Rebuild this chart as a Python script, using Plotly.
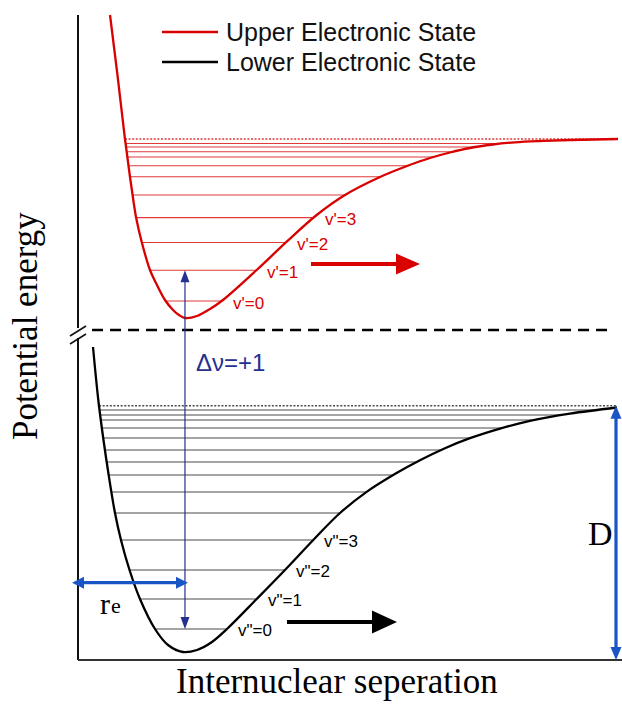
import numpy as np
import plotly.graph_objects as go

# Potential energy curves: internuclear separation r vs energy E (arbitrary units)
upper_r = [0.593, 0.731, 0.870, 0.963, 1.024, 1.074, 1.180, 1.333, 1.444, 1.611,
           1.759, 1.870, 1.981, 2.204, 2.444, 2.685, 3.309, 3.865, 4.420, 4.944,
           5.593, 6.093, 6.519, 6.889, 7.259, 7.685, 8.093, 8.556, 9.111, 10.0]
upper_E = [12.90, 11.70, 10.42, 9.66, 9.20, 8.86, 8.36, 7.80, 7.54, 7.20,
           7.00, 6.90, 6.84, 6.88, 7.02, 7.20, 7.80, 8.366, 8.90, 9.30,
           9.66, 9.88, 10.04, 10.15, 10.24, 10.31, 10.354, 10.38, 10.40, 10.42]

lower_r = [0.278, 0.376, 0.472, 0.565, 0.685, 0.796, 0.954, 1.148, 1.426, 1.667,
           1.944, 2.204, 2.481, 2.759, 3.309, 3.833, 4.357, 4.852, 5.352, 5.907,
           6.333, 6.796, 7.259, 7.815, 8.370, 9.111, 9.981]
lower_E = [6.26, 5.20, 4.40, 3.72, 2.94, 2.40, 1.80, 1.22, 0.62, 0.30,
           0.16, 0.20, 0.36, 0.62, 1.22, 1.80, 2.40, 2.94, 3.368, 3.744,
           3.996, 4.236, 4.436, 4.628, 4.784, 4.928, 5.05]

# Vibrational levels of each state and the dissociation limits
upper_levels = [7.18, 7.794, 8.35, 8.848, 9.30, 9.666, 9.886, 10.06, 10.166, 10.26, 10.33]
lower_levels = [0.62, 1.22, 1.80, 2.40, 2.94, 3.36, 3.70, 3.96, 4.20, 4.44, 4.64, 4.80, 4.90, 5.00]
upper_limit = 10.42
lower_limit = 5.086

upper_labels = ["v'=0", "v'=1", "v'=2", "v'=3"]
lower_labels = ['v"=0', 'v"=1', 'v"=2', 'v"=3']
legend_names = ["Upper Electronic State", "Lower Electronic State"]

r_eq = 1.981        # equilibrium separation marked by r_e
axis_break = 6.6    # energy at which the axis is broken
r_max = 10.074

RED = "#d90000"
RED_LEVEL = "#e03a3a"
BLACK = "#000000"
GREY_LEVEL = "#4a4a4a"
NAVY = "#25318f"
BLUE = "#1a55c6"
SERIF = "Liberation Serif, Times New Roman, serif"
SANS = "Liberation Sans, Arial, sans-serif"

W, H = 622, 706
KX, KY = 54.0, 50.0                   # pixels per data unit
X0, Y0 = -78 / KX, -46 / KY           # data value at the left / bottom edge
x_range = [X0, X0 + W / KX]
y_range = [Y0, Y0 + H / KY]


def crossings(r, E, level):
    r = np.asarray(r, float)
    E = np.asarray(E, float)
    i = int(np.argmin(E))
    left = np.interp(level, E[:i + 1][::-1], r[:i + 1][::-1])
    right = np.interp(level, E[i:], r[i:])
    return float(left), float(right)


def level_segments(r, E, levels):
    xs, ys = [], []
    for lv in levels:
        a, b = crossings(r, E, lv)
        xs += [a, b, None]
        ys += [lv, lv, None]
    return xs, ys


fig = go.Figure()
shapes = []
annotations = []

# vibrational level lines
for r, E, levels, limit, col in [(upper_r, upper_E, upper_levels, upper_limit, RED_LEVEL),
                                 (lower_r, lower_E, lower_levels, lower_limit, GREY_LEVEL)]:
    xs, ys = level_segments(r, E, levels)
    fig.add_trace(go.Scatter(x=xs, y=ys, mode="lines", line=dict(color=col, width=1.1),
                             hoverinfo="skip", showlegend=False))
    a, _ = crossings(r, E, limit)
    fig.add_trace(go.Scatter(x=[a, r[-1]], y=[limit, limit], mode="lines",
                             line=dict(color=col, width=1.4, dash="2px,1.6px"),
                             hoverinfo="skip", showlegend=False))

# potential curves
fig.add_trace(go.Scatter(x=upper_r, y=upper_E, mode="lines", name=legend_names[0],
                         line=dict(color=RED, width=2.3, shape="spline", smoothing=1.0),
                         showlegend=False))
fig.add_trace(go.Scatter(x=lower_r, y=lower_E, mode="lines", name=legend_names[1],
                         line=dict(color=BLACK, width=2.3, shape="spline", smoothing=1.0),
                         showlegend=False))


def line(x0, y0, x1, y1, color, width, dash=None):
    d = dict(type="line", xref="x", yref="y", x0=x0, y0=y0, x1=x1, y1=y1,
             line=dict(color=color, width=width))
    if dash:
        d["line"]["dash"] = dash
    shapes.append(d)


def head(tx, ty, direction, length_px, half_px, color):
    """Filled triangular arrowhead with its tip at (tx, ty)."""
    L, Hh = length_px, half_px
    if direction == "right":
        pts = [(tx, ty), (tx - L / KX, ty + Hh / KY), (tx - L / KX, ty - Hh / KY)]
    elif direction == "left":
        pts = [(tx, ty), (tx + L / KX, ty + Hh / KY), (tx + L / KX, ty - Hh / KY)]
    elif direction == "up":
        pts = [(tx, ty), (tx - Hh / KX, ty - L / KY), (tx + Hh / KX, ty - L / KY)]
    else:
        pts = [(tx, ty), (tx - Hh / KX, ty + L / KY), (tx + Hh / KX, ty + L / KY)]
    path = "M " + " L ".join(f"{x:.4f},{y:.4f}" for x, y in pts) + " Z"
    shapes.append(dict(type="path", xref="x", yref="y", path=path,
                       fillcolor=color, line=dict(width=0)))


# axes with a break on the energy axis
line(0, 0, 0, axis_break - 0.16, "#111", 2)
line(0, axis_break + 0.04, 0, 12.9, "#111", 2)
line(0, 0, r_max, 0, "#333", 2)
for dy in (0.0, -0.16):
    line(-0.148, axis_break - 0.12 + dy, 0.148, axis_break + 0.08 + dy, "#111", 1.6)

# dashed separator between the two electronic states
line(0.26, axis_break, 9.85, axis_break, BLACK, 2.4, dash="11px,7px")

# Δv = +1 transition at r_e
y_top, y_bot = upper_levels[1], lower_levels[0]
line(r_eq, y_bot + 10 / KY, r_eq, y_top - 10 / KY, NAVY, 1.2)
head(r_eq, y_top, "up", 12, 4.5, NAVY)
head(r_eq, y_bot, "down", 12, 4.5, NAVY)

# r_e marker
y_re = 1.546
x_left = -6 / KX
line(x_left + 10 / KX, y_re, r_eq + 3 / KX - 10 / KX, y_re, BLUE, 3.3)
head(x_left, y_re, "left", 12, 6, BLUE)
head(r_eq + 3 / KX, y_re, "right", 12, 6, BLUE)

# dissociation energy D
x_D = 9.963
line(x_D, 0 + 12 / KY, x_D, lower_limit - 12 / KY, BLUE, 3.2)
head(x_D, lower_limit, "up", 13, 5.5, BLUE)
head(x_D, 0.0, "down", 13, 5.5, BLUE)

# dissociation direction arrows
line(4.315, 7.92, 6.333 - 22 / KX, 7.92, RED, 4)
head(6.333, 7.92, "right", 24, 10.5, RED)
line(3.870, 0.76, 5.907 - 24 / KX, 0.76, BLACK, 4)
head(5.907, 0.76, "right", 25, 11.5, BLACK)

# level labels next to the right branch of each curve
for lab, lv in zip(upper_labels, upper_levels):
    _, b = crossings(upper_r, upper_E, lv)
    annotations.append(dict(x=b, y=lv, text=lab, showarrow=False, xanchor="left",
                            yanchor="middle", xshift=9, yshift=-2,
                            font=dict(family=SANS, size=17, color=RED)))
for lab, lv in zip(lower_labels, lower_levels):
    _, b = crossings(lower_r, lower_E, lv)
    annotations.append(dict(x=b, y=lv, text=lab, showarrow=False, xanchor="left",
                            yanchor="middle", xshift=9, yshift=-1,
                            font=dict(family=SANS, size=17, color=BLACK)))

# legend drawn by hand for longer line samples
for i, (name, col) in enumerate(zip(legend_names, [RED, BLACK])):
    ly = 12.56 - 0.6 * i
    line(1.556, ly, 2.593, ly, col, 2.6)
    annotations.append(dict(x=2.70, y=ly, text=name, showarrow=False, xanchor="left",
                            yanchor="middle", font=dict(family=SANS, size=25, color="#111")))

annotations += [
    dict(x=2.833, y=5.96, text="Δν=+1", showarrow=False, xanchor="center", yanchor="middle",
         font=dict(family=SANS, size=24, color=NAVY)),
    dict(x=9.685, y=2.53, text="D", showarrow=False, xanchor="center", yanchor="middle",
         font=dict(family=SERIF, size=34, color=BLACK)),
    dict(x=0.5, y=1.14, text="r", showarrow=False, xanchor="center", yanchor="middle",
         font=dict(family=SERIF, size=30, color=BLACK)),
    dict(x=0.71, y=1.10, text="e", showarrow=False, xanchor="center", yanchor="middle",
         font=dict(family=SERIF, size=22, color=BLACK)),
    dict(x=-0.98, y=6.68, text="Potential energy", showarrow=False, textangle=-90,
         xanchor="center", yanchor="middle", font=dict(family=SERIF, size=35, color=BLACK)),
    dict(x=4.787, y=-0.43, text="Internuclear seperation", showarrow=False,
         xanchor="center", yanchor="middle", font=dict(family=SERIF, size=35, color=BLACK)),
]

fig.update_layout(
    width=W, height=H,
    margin=dict(l=0, r=0, t=0, b=0),
    paper_bgcolor="white", plot_bgcolor="white",
    xaxis=dict(range=x_range, visible=False, fixedrange=True),
    yaxis=dict(range=y_range, visible=False, fixedrange=True),
    shapes=shapes, annotations=annotations, showlegend=False,
)

fig.write_html("out.html")
